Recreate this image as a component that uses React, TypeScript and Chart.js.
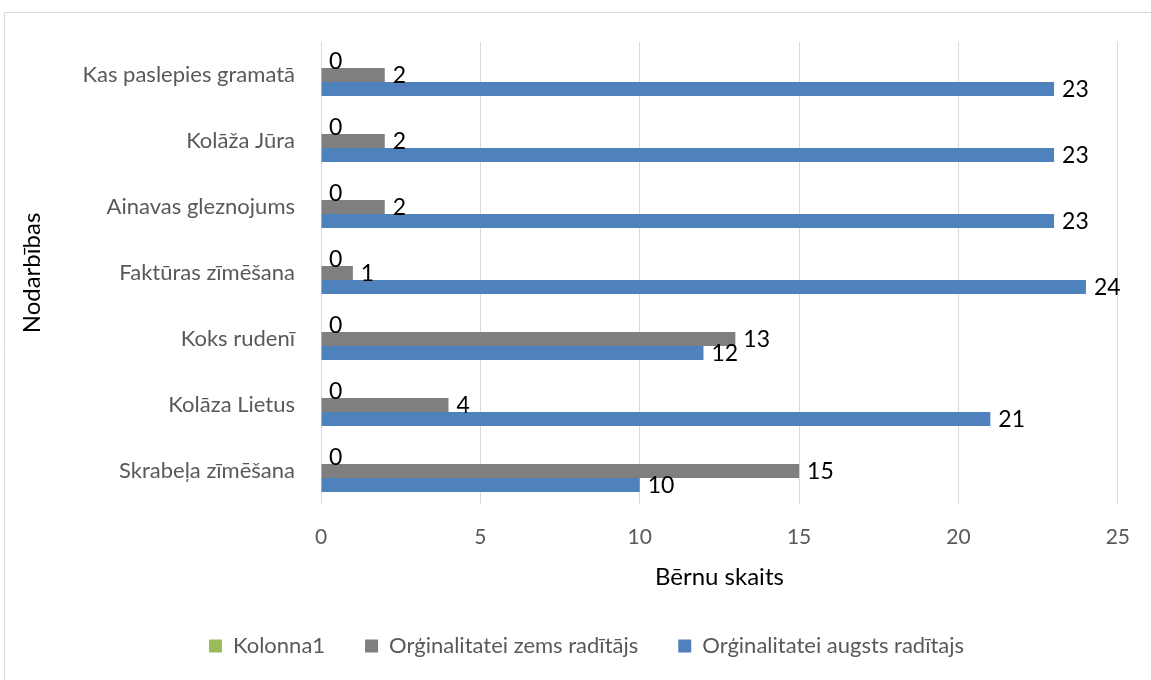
import React, { useEffect, useRef } from "react";
import { Chart, registerables } from "chart.js";

Chart.register(...registerables);

const categories = [
  "Kas paslepies gramatā",
  "Kolāža Jūra",
  "Ainavas gleznojums",
  "Faktūras zīmēšana",
  "Koks rudenī",
  "Kolāza Lietus",
  "Skrabeļa zīmēšana",
];
const seriesNames = [
  "Kolonna1",
  "Orģinalitatei zems radītājs",
  "Orģinalitatei augsts radītajs",
];
const kolonna1 = [0, 0, 0, 0, 0, 0, 0];
const zemsRaditajs = [2, 2, 2, 1, 13, 4, 15];
const augstsRaditajs = [23, 23, 23, 24, 12, 21, 10];
const xTitle = "Bērnu skaits";
const yTitle = "Nodarbības";

const FONT = "Lato, 'Open Sans', sans-serif";
const COLORS = ["#9bbb59", "#7f7f7f", "#4f81bd"];

const framePlugin = {
  id: "frame",
  beforeDraw(chart: any) {
    const { ctx, width, height } = chart;
    ctx.save();
    ctx.fillStyle = "#ffffff";
    ctx.fillRect(0, 0, width, height);
    ctx.strokeStyle = "#d9d9d9";
    ctx.lineWidth = 1;
    ctx.beginPath();
    ctx.moveTo(4.5, height);
    ctx.lineTo(4.5, 12.5);
    ctx.lineTo(width, 12.5);
    ctx.stroke();
    ctx.restore();
  },
};

const dataLabelPlugin = {
  id: "dataLabels",
  afterDatasetsDraw(chart: any) {
    const { ctx } = chart;
    ctx.save();
    ctx.font = `23px ${FONT}`;
    ctx.fillStyle = "#000000";
    ctx.textAlign = "left";
    ctx.textBaseline = "middle";
    chart.data.datasets.forEach((ds: any, i: number) => {
      const meta = chart.getDatasetMeta(i);
      meta.data.forEach((bar: any, j: number) => {
        ctx.fillText(String(ds.data[j]), bar.x + 8, bar.y + 1);
      });
    });
    ctx.restore();
  },
};

export default function App() {
  const canvasRef = useRef<HTMLCanvasElement | null>(null);

  useEffect(() => {
    document.body.style.margin = "0";
    const canvas = canvasRef.current;
    if (!canvas) return;
    const chart = new Chart(canvas, {
      type: "bar",
      data: {
        labels: categories,
        datasets: [
          { label: seriesNames[0], data: kolonna1, backgroundColor: COLORS[0] },
          { label: seriesNames[1], data: zemsRaditajs, backgroundColor: COLORS[1] },
          { label: seriesNames[2], data: augstsRaditajs, backgroundColor: COLORS[2] },
        ],
      },
      options: {
        indexAxis: "y",
        responsive: false,
        animation: false,
        devicePixelRatio: 1,
        layout: { padding: { left: 52, top: 42, right: 30, bottom: 13 } },
        datasets: {
          bar: { categoryPercentage: 0.636, barPercentage: 1.0 },
        },
        plugins: {
          tooltip: { enabled: false },
          legend: {
            position: "bottom",
            labels: {
              boxWidth: 13,
              boxHeight: 13,
              padding: 40,
              color: "#595959",
              font: { family: FONT, size: 22 },
            },
          },
        },
        scales: {
          x: {
            min: 0,
            max: 25,
            ticks: {
              stepSize: 5,
              color: "#595959",
              padding: 21,
              font: { family: FONT, size: 21 },
            },
            grid: { color: "#d9d9d9", lineWidth: 1, drawTicks: false },
            border: { display: false },
            title: {
              display: true,
              text: xTitle,
              color: "#000000",
              font: { family: FONT, size: 24 },
              padding: { top: 0, bottom: 3 },
            },
            afterFit: (s: any) => {
              s.height = 91;
            },
          },
          y: {
            grid: { display: false },
            border: { display: false },
            ticks: {
              color: "#595959",
              padding: 18,
              font: { family: FONT, size: 22 },
            },
            title: {
              display: true,
              text: yTitle,
              color: "#000000",
              font: { family: FONT, size: 24 },
              padding: { top: -34, bottom: 0 },
            },
            afterFit: (s: any) => {
              s.width = 269;
            },
          },
        },
      },
      plugins: [framePlugin, dataLabelPlugin],
    });
    return () => chart.destroy();
  }, []);

  return (
    <div style={{ width: 1151, height: 680 }}>
      <canvas ref={canvasRef} width={1151} height={680} style={{ display: "block" }} />
    </div>
  );
}
